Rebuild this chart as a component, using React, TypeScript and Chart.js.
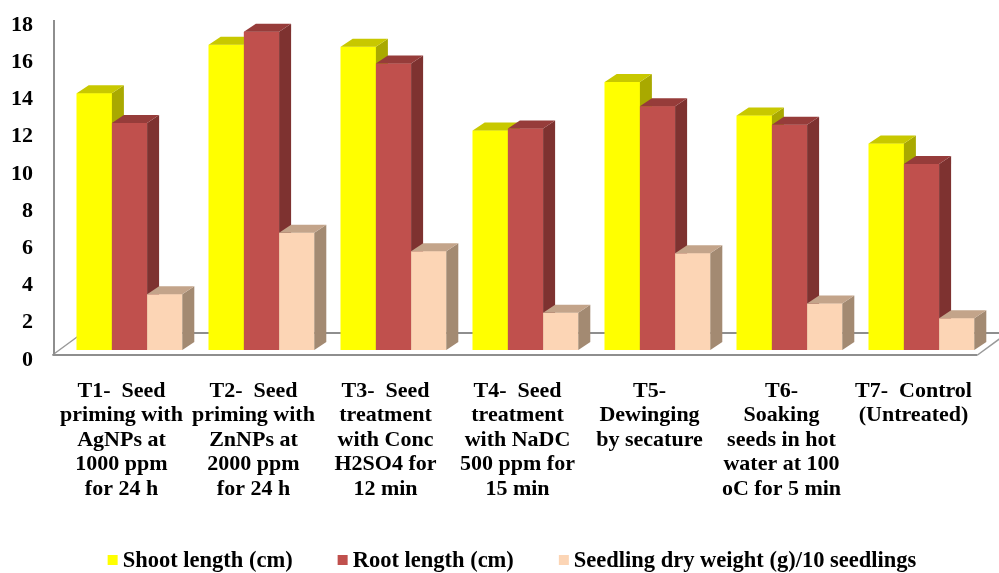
import React, { useEffect, useRef } from "react";
import { Chart, registerables } from "chart.js";

Chart.register(...registerables);

const categories: string[][] = [
  ["T1-  Seed", "priming with", "AgNPs at", "1000 ppm", "for 24 h"],
  ["T2-  Seed", "priming with", "ZnNPs at", "2000 ppm", "for 24 h"],
  ["T3-  Seed", "treatment", "with Conc", "H2SO4 for", "12 min"],
  ["T4-  Seed", "treatment", "with NaDC", "500 ppm for", "15 min"],
  ["T5-", "Dewinging", "by secature"],
  ["T6-", "Soaking", "seeds in hot", "water at 100", "oC for 5 min"],
  ["T7-  Control", "(Untreated)"],
];

const seriesNames = [
  "Shoot length (cm)",
  "Root length (cm)",
  "Seedling dry weight (g)/10 seedlings",
];

const shootLength = [13.8, 16.4, 16.3, 11.8, 14.4, 12.6, 11.1];
const rootLength = [12.2, 17.1, 15.4, 11.9, 13.1, 12.1, 10.0];
const dryWeight = [3.0, 6.3, 5.3, 2.0, 5.2, 2.5, 1.7];

const yMin = 0;
const yMax = 18;
const yStep = 2;

const frontColors = ["#FFFF00", "#C0504D", "#FCD5B5"];
const sideColors = ["#A9A900", "#7E3230", "#A38A72"];
const topColors = ["#C8C800", "#963C3A", "#C3A48A"];

const FONT = "'Liberation Serif', 'Times New Roman', serif";
const DEPTH_X = 12;
const DEPTH_Y = 8;

const threeDPlugin = {
  id: "threeD",
  beforeDatasetsDraw(chart: any) {
    const { ctx, chartArea } = chart;
    const y = chart.scales.y;
    const b = y.getPixelForValue(0);
    const L = chartArea.left;
    const R = chartArea.right;
    const fx1 = L - 11;
    const fx2 = R - 10;
    const fy = b + 5;
    const dx = 30;
    const dy = 22;
    ctx.save();
    ctx.strokeStyle = "#8E8E8E";
    ctx.lineWidth = 2;
    ctx.beginPath();
    ctx.moveTo(fx1 + dx, fy - dy);
    ctx.lineTo(fx2 + dx, fy - dy);
    ctx.moveTo(fx1, fy);
    ctx.lineTo(fx2, fy);
    ctx.stroke();
    ctx.lineWidth = 1.5;
    ctx.strokeStyle = "#9A9A9A";
    ctx.beginPath();
    ctx.moveTo(fx1, fy);
    ctx.lineTo(fx1 + dx, fy - dy);
    ctx.moveTo(fx2, fy);
    ctx.lineTo(fx2 + dx, fy - dy);
    ctx.stroke();
    ctx.lineWidth = 2;
    ctx.strokeStyle = "#8E8E8E";
    ctx.beginPath();
    ctx.moveTo(fx1 + 1.5, y.getPixelForValue(yMax) + 5);
    ctx.lineTo(fx1 + 1.5, fy);
    ctx.stroke();
    ctx.restore();
  },
  afterDatasetsDraw(chart: any) {
    const { ctx } = chart;
    const metas = [0, 1, 2].map((i) => chart.getDatasetMeta(i));
    ctx.save();
    for (let i = 0; i < categories.length; i++) {
      for (let d = 0; d < metas.length; d++) {
        const el = metas[d].data[i];
        if (!el) continue;
        const p = el.getProps(["x", "y", "base", "width"], true);
        const x1 = p.x - p.width / 2;
        const x2 = p.x + p.width / 2;
        const top = p.y;
        const bottom = p.base;
        el.draw(ctx);
        ctx.fillStyle = sideColors[d];
        ctx.beginPath();
        ctx.moveTo(x2, top);
        ctx.lineTo(x2 + DEPTH_X, top - DEPTH_Y);
        ctx.lineTo(x2 + DEPTH_X, bottom - DEPTH_Y);
        ctx.lineTo(x2, bottom);
        ctx.closePath();
        ctx.fill();
        ctx.fillStyle = topColors[d];
        ctx.beginPath();
        ctx.moveTo(x1, top);
        ctx.lineTo(x1 + DEPTH_X, top - DEPTH_Y);
        ctx.lineTo(x2 + DEPTH_X, top - DEPTH_Y);
        ctx.lineTo(x2, top);
        ctx.closePath();
        ctx.fill();
      }
    }
    ctx.restore();
  },
  afterDraw(chart: any) {
    const { ctx } = chart;
    ctx.save();
    ctx.font = `bold 22.5px ${FONT}`;
    ctx.textBaseline = "middle";
    ctx.textAlign = "left";
    const box = 10;
    const gapBox = 5;
    const gapItem = 45;
    const widths = seriesNames.map((t) => ctx.measureText(t).width);
    const total =
      widths.reduce((a, w) => a + box + gapBox + w, 0) + gapItem * (seriesNames.length - 1);
    let x = 512 - total / 2;
    const yc = 560;
    seriesNames.forEach((t, i) => {
      ctx.fillStyle = frontColors[i];
      ctx.fillRect(x, yc - 5, box, box);
      x += box + gapBox;
      ctx.fillStyle = "#000000";
      ctx.fillText(t, x, yc + 1);
      x += widths[i] + gapItem;
    });
    ctx.restore();
  },
};

export default function App() {
  const canvasRef = useRef<HTMLCanvasElement | null>(null);

  useEffect(() => {
    if (!canvasRef.current) return;
    const values = [shootLength, rootLength, dryWeight];
    const chart = new Chart(canvasRef.current, {
      type: "bar",
      data: {
        labels: categories,
        datasets: values.map((v, i) => ({
          label: seriesNames[i],
          data: v,
          backgroundColor: frontColors[i],
          borderWidth: 0,
          categoryPercentage: 0.8,
          barPercentage: 1.0,
        })),
      },
      options: {
        responsive: false,
        animation: false,
        layout: { padding: { top: 15, right: 11.5, left: 0, bottom: 0 } },
        plugins: {
          legend: { display: false },
          tooltip: { enabled: false },
        },
        scales: {
          x: {
            grid: { display: false, drawTicks: false },
            border: { display: false },
            ticks: {
              color: "#000000",
              font: { family: FONT, size: 22, weight: "bold", lineHeight: 1.11 },
              padding: 29,
              labelOffset: -8,
              maxRotation: 0,
              minRotation: 0,
              autoSkip: false,
            },
            afterFit: (s: any) => {
              s.height = 223;
              s.paddingLeft = 0;
              s.paddingRight = 0;
            },
          },
          y: {
            min: yMin,
            max: yMax,
            grid: { display: false, drawTicks: false },
            border: { display: false },
            ticks: {
              stepSize: yStep,
              color: "#000000",
              font: { family: FONT, size: 22, weight: "bold" },
              padding: 30.5,
              labelOffset: 10,
            },
            afterFit: (s: any) => {
              s.width = 63.5;
              s.paddingTop = 0;
              s.paddingBottom = 0;
            },
          },
        },
      },
      plugins: [threeDPlugin],
    });
    return () => chart.destroy();
  }, []);

  return (
    <div style={{ position: "fixed", left: 0, top: 0, width: 999, height: 573, background: "#ffffff" }}>
      <canvas ref={canvasRef} width={999} height={573} style={{ width: 999, height: 573, display: "block" }} />
    </div>
  );
}
